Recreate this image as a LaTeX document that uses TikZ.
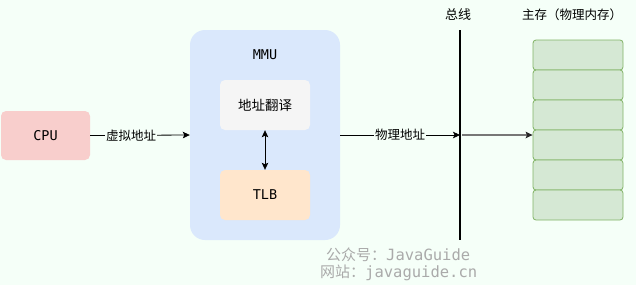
\documentclass[tikz,border=0pt]{standalone}
\usepackage{fontspec}
\setmainfont{Noto Sans CJK SC}
\newfontfamily\cjk{Noto Sans CJK SC}
\newfontfamily\mono{DejaVu Sans Mono}
\usetikzlibrary{arrows.meta}
\definecolor{bgc}{HTML}{F5FFF8}
\definecolor{cpuc}{HTML}{F8CECC}
\definecolor{mmuc}{HTML}{DAE8FC}
\definecolor{transc}{HTML}{F5F5F5}
\definecolor{tlbc}{HTML}{FFE6CC}
\definecolor{memc}{HTML}{D5E8D4}
\definecolor{memd}{HTML}{82B366}
\definecolor{wmc}{HTML}{AAAAAA}
\definecolor{linkc}{HTML}{777777}
\tikzset{
  box/.style={rounded corners=5pt, minimum width=#1, inner sep=0pt},
  cell/.style={draw=memd, fill=memc, rounded corners=3pt, minimum width=90pt, minimum height=30pt, inner sep=0pt, line width=0.8pt},
  tip/.style={Stealth[length=7pt,width=6.5pt,inset=1.5pt]},
  arr/.style={-{Stealth[length=7pt,width=6.5pt,inset=1.5pt]}, line width=0.8pt},
  elabel/.style={fill=bgc, inner sep=1pt, font=\cjk\fontsize{12.5}{14}\selectfont},
  wm/.style={text=wmc, inner sep=0pt}
}
\begin{document}
\begin{tikzpicture}[x=1pt,y=-1pt]
\fill[bgc] (0,0) rectangle (636,285);
\useasboundingbox (0,0) rectangle (636,285);
% CPU
\node[box=89pt, fill=cpuc, minimum height=49pt, font=\mono\fontsize{13.5}{16}\selectfont] (cpu) at (45.5,135.5) {CPU};
% MMU
\node[fill=mmuc, rounded corners=15pt, minimum width=150pt, minimum height=210pt, inner sep=0pt] (mmu) at (265,135) {};
\node[font=\mono\fontsize{13.5}{16}\selectfont, inner sep=0pt] (mmut) at (265,55) {MMU};
\node[box=90pt, fill=transc, minimum height=50pt, font=\cjk\fontsize{13.5}{16}\selectfont] (trans) at (265,105) {地址翻译};
\node[box=90pt, fill=tlbc, minimum height=50pt, font=\mono\fontsize{13.5}{16}\selectfont] (tlb) at (265,195) {TLB};
\draw[{Stealth[length=7pt,width=6.5pt,inset=1.5pt]}-{Stealth[length=7pt,width=6.5pt,inset=1.5pt]}, line width=0.8pt] (trans) -- (tlb);
% bus
\coordinate (bt) at (460,30);
\coordinate (bb) at (460,240);
\draw[line width=2pt] (bt) -- (bb);
\coordinate (bm) at (460,135);
\node[font=\cjk\fontsize{13}{15}\selectfont, inner sep=0pt] (busl) at (458,15) {总线};
% arrows
\draw[arr] (cpu.east) -- node[elabel, pos=0.41] (va) {虚拟地址} (mmu.west);
\draw[arr] (mmu.east) -- node[elabel, pos=0.5] (pa) {物理地址} (bm);
% memory
\foreach \i in {0,...,5} {
  \node[cell] (m\i) at (578,{55+30*\i}) {};
}
\node[font=\cjk\fontsize{12.5}{15}\selectfont, inner sep=0pt] (meml) at (572,15) {主存（物理内存）};
\coordinate (bo) at (462,135);
\draw[-{Stealth[length=7pt,width=6.5pt,inset=1.5pt,color=black!85]}, line width=1.8pt, draw=linkc] (bo) -- (bo -| m3.west);
% watermark
\node[wm, anchor=west] (w1) at (326,255) {{\cjk\fontsize{15}{17}\selectfont 公众号：}{\mono\fontsize{15.5}{17}\selectfont JavaGuide}};
\node[wm, anchor=west] (w2) at (320,273) {{\cjk\fontsize{15}{17}\selectfont 网站：}{\mono\fontsize{15.5}{17}\selectfont javaguide.cn}};
\end{tikzpicture}
\end{document}
